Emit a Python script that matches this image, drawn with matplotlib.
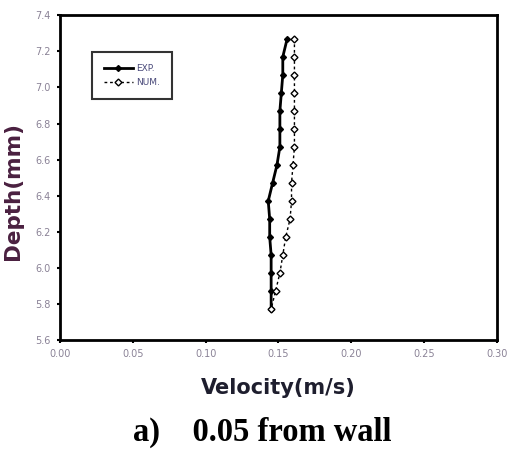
import numpy as np
import matplotlib
matplotlib.use("Agg")
import matplotlib.pyplot as plt

# depth points (mm), top to bottom
depth = [7.27, 7.17, 7.07, 6.97, 6.87, 6.77, 6.67, 6.57,
         6.47, 6.37, 6.27, 6.17, 6.07, 5.97, 5.87, 5.77]
# measured velocity (m/s)
vel_exp = [0.156, 0.153, 0.153, 0.152, 0.151, 0.151, 0.151, 0.149,
           0.146, 0.143, 0.144, 0.144, 0.145, 0.145, 0.145, 0.145]
# numerical velocity (m/s)
vel_num = [0.161, 0.161, 0.161, 0.161, 0.161, 0.161, 0.161, 0.160,
           0.159, 0.159, 0.158, 0.155, 0.153, 0.151, 0.148, 0.145]

xticks = [0.00, 0.05, 0.10, 0.15, 0.20, 0.25, 0.30]
yticks = [5.6, 5.8, 6.0, 6.2, 6.4, 6.6, 6.8, 7.0, 7.2, 7.4]

fig = plt.figure(figsize=(5.09, 4.53), dpi=100)
ax = fig.add_axes([0.118, 0.250, 0.858, 0.716])

ax.plot(vel_exp, depth, color='black', lw=2.0, marker='D', ms=3,
        mfc='black', mec='black', label='EXP.')
ax.plot(vel_num, depth, color='black', lw=1.0, ls=(0, (2, 2)), marker='D',
        ms=3.5, mfc='white', mec='black', mew=1.0, label='NUM.')

ax.set_xlim(0, 0.30)
ax.set_ylim(5.6, 7.4)
ax.set_xticks(xticks)
ax.set_yticks(yticks)
ax.set_xticklabels(['%.2f' % v for v in xticks])
ax.set_yticklabels(['%.1f' % v for v in yticks])
ax.tick_params(direction='out', length=2.5, width=1.5, labelsize=7,
               labelcolor='#8a8296', pad=4)
for s in ax.spines.values():
    s.set_linewidth(2.0)

leg = ax.legend(loc='upper left', bbox_to_anchor=(0.062, 0.902), fontsize=6.5,
                frameon=True, fancybox=False, edgecolor='black',
                handlelength=3.2, handletextpad=0.4, borderpad=1.35,
                labelspacing=0.55)
leg.get_frame().set_linewidth(1.5)
for t in leg.get_texts():
    t.set_color('#4a4a7a')

ax.set_ylabel('Depth(mm)', fontsize=15.5, fontweight='bold', color='#4a2040',
              family='DejaVu Sans')
ax.yaxis.set_label_coords(-0.085, 0.46)
ax.set_xlabel('Velocity(m/s)', fontsize=15, fontweight='bold', color='#1e1e2e',
              family='DejaVu Sans', labelpad=14)

fig.text(0.515, 0.046, 'a)    0.05 from wall', ha='center', va='center',
         fontsize=23.5, fontweight='bold', family='Liberation Serif')

fig.savefig('out.png', dpi=100)
